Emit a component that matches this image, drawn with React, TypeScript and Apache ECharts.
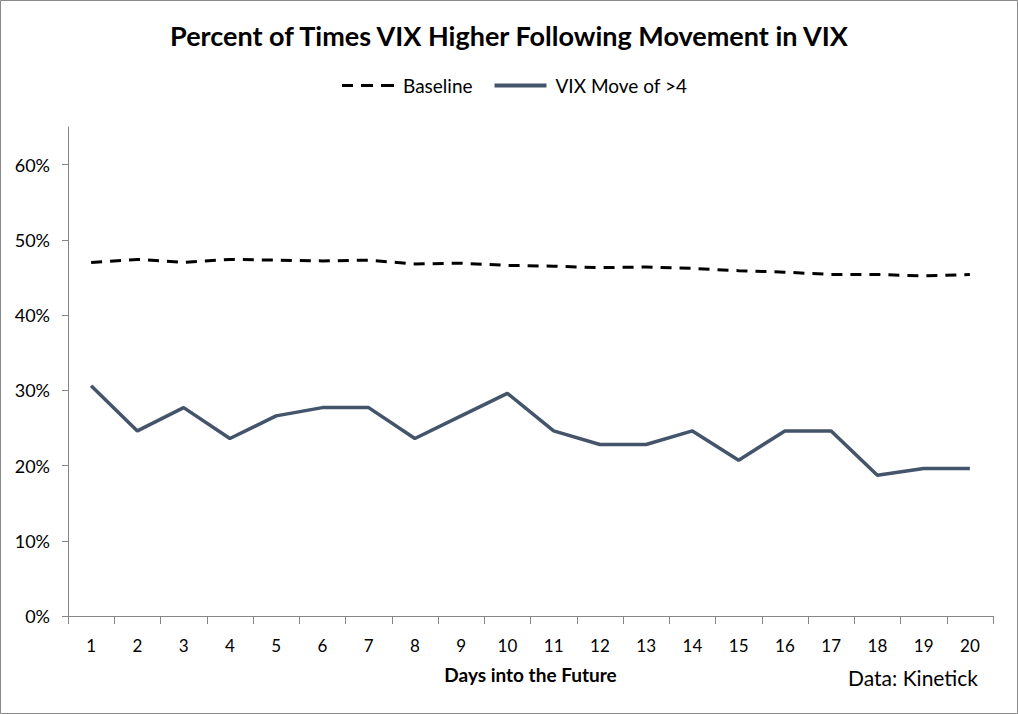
import React, { useEffect, useRef } from "react";
import * as echarts from "echarts";

const categories = ["1","2","3","4","5","6","7","8","9","10","11","12","13","14","15","16","17","18","19","20"];
const baseline = [0.470, 0.474, 0.470, 0.474, 0.473, 0.472, 0.473, 0.468, 0.469, 0.466, 0.465, 0.463, 0.464, 0.462, 0.459, 0.457, 0.454, 0.454, 0.452, 0.454];
const vixMove = [0.306, 0.246, 0.277, 0.236, 0.266, 0.277, 0.277, 0.236, 0.266, 0.296, 0.246, 0.228, 0.228, 0.246, 0.207, 0.246, 0.246, 0.187, 0.196, 0.196];
const yTicks = [0, 0.1, 0.2, 0.3, 0.4, 0.5, 0.6];

const FONT = "Lato, 'Open Sans', sans-serif";

export default function App() {
  const ref = useRef<HTMLDivElement>(null);
  useEffect(() => {
    document.body.style.margin = "0";
    const chart = echarts.init(ref.current!, null, { renderer: "svg" });
    chart.setOption({
      animation: false,
      backgroundColor: "#ffffff",
      title: {
        text: "Percent of Times VIX Higher Following Movement in VIX",
        left: "center",
        top: 17,
        textStyle: { fontFamily: FONT, fontSize: 27, fontWeight: "bold", color: "#000" },
      },
      legend: {
        top: 71,
        left: 337,
        itemWidth: 52,
        itemHeight: 4,
        itemGap: 22,
        textStyle: { fontFamily: FONT, fontSize: 19, color: "#000", padding: [0, 0, 0, 4] },
        data: [
          { name: "Baseline", icon: "path://M0,0h11v3h-11z M19,0h12v3h-12z M39,0h13v3h-13z" },
          { name: "VIX Move of >4", icon: "path://M0,0h52v4h-52z" },
        ],
      },
      grid: { left: 68, right: 25, top: 127, bottom: 98, containLabel: false },
      xAxis: {
        type: "category",
        data: categories,
        boundaryGap: true,
        name: "Days into the Future",
        nameLocation: "middle",
        nameGap: 49,
        nameTextStyle: { fontFamily: FONT, fontSize: 19, fontWeight: "bold", color: "#000" },
        axisLine: { lineStyle: { color: "#868686", width: 1 } },
        axisTick: { show: true, interval: 0, length: 8, lineStyle: { color: "#868686" } },
        axisLabel: { interval: 0, margin: 21, fontFamily: FONT, fontSize: 17, color: "#000" },
        splitLine: { show: false },
      },
      yAxis: {
        type: "value",
        min: 0,
        max: 0.65,
        interval: 0.1,
        axisLine: { show: true, lineStyle: { color: "#868686", width: 1 } },
        axisTick: { show: true, length: 6, lineStyle: { color: "#868686" }, customValues: yTicks },
        axisLabel: {
          margin: 18,
          fontFamily: FONT,
          fontSize: 18,
          color: "#000",
          customValues: yTicks,
          formatter: (v: number) => Math.round(v * 100) + "%",
        },
        splitLine: { show: false },
      },
      series: [
        {
          name: "Baseline",
          type: "line",
          data: baseline,
          symbol: "none",
          lineStyle: { color: "#000", width: 3, type: [11, 8] },
          itemStyle: { color: "#000" },
        },
        {
          name: "VIX Move of >4",
          type: "line",
          data: vixMove,
          symbol: "none",
          lineStyle: { color: "#44546A", width: 3.5 },
          itemStyle: { color: "#44546A" },
        },
      ],
      graphic: [
        {
          type: "rect",
          shape: { x: 0.5, y: 0.5, width: 1017, height: 713 },
          style: { fill: "none", stroke: "#898989", lineWidth: 1 },
          silent: true,
        },
        {
          type: "text",
          right: 40,
          top: 667,
          style: { text: "Data: Kinetick", fontFamily: FONT, fontSize: 21, fill: "#000" },
        },
      ],
    });
    return () => chart.dispose();
  }, []);
  return <div ref={ref} style={{ width: 1018, height: 714 }} />;
}
